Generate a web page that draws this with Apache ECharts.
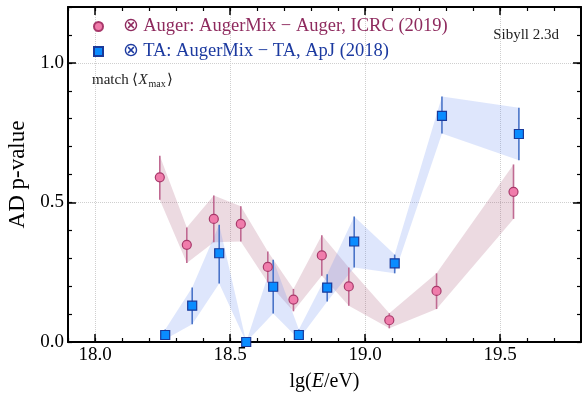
<!DOCTYPE html>
<html><head><meta charset="utf-8">
<script src="https://cdn.jsdelivr.net/npm/echarts@6/dist/echarts.min.js"></script>
<style>html,body{margin:0;padding:0;background:#fff}#c{width:582px;height:393px}</style>
</head><body><div id="c"></div><script>
// ---- data ----
const augerName = '⊗ Auger: AugerMix − Auger, ICRC (2019)';
const taName = '⊗ TA: AugerMix − TA, ApJ (2018)';
const augerX  = [18.24, 18.34, 18.44, 18.54, 18.64, 18.735, 18.84, 18.94, 19.09, 19.265, 19.55];
const augerY  = [0.590, 0.348, 0.441, 0.423, 0.269, 0.152, 0.310, 0.199, 0.078, 0.183, 0.538];
const augerLo = [0.510, 0.283, 0.357, 0.360, 0.213, 0.110, 0.237, 0.130, 0.049, 0.118, 0.441];
const augerHi = [0.667, 0.410, 0.525, 0.486, 0.324, 0.190, 0.382, 0.267, 0.103, 0.246, 0.636];
const taX  = [18.26, 18.36, 18.46, 18.56, 18.66, 18.755, 18.86, 18.96, 19.11, 19.285, 19.57];
const taY  = [0.025, 0.130, 0.318, 0.000, 0.198, 0.025, 0.195, 0.360, 0.282, 0.810, 0.745];
const taLo = [0.010, 0.064, 0.210, 0.000, 0.102, 0.010, 0.145, 0.267, 0.246, 0.747, 0.651];
const taHi = [0.045, 0.195, 0.420, 0.000, 0.295, 0.045, 0.243, 0.450, 0.313, 0.879, 0.839];
const xMajor = [18.0, 18.5, 19.0, 19.5];
const yMajor = [0.0, 0.5, 1.0];

const FONT = '"Liberation Serif", "Times New Roman", serif';
const chart = echarts.init(document.getElementById('c'), null, {renderer: 'canvas'});

function pts(xs, a, b) { return xs.map((x, i) => b ? [x, a[i], b[i]] : [x, a[i]]); }

function bandSeries(xs, lo, hi, color) {
  return {
    type: 'custom', xAxisIndex: 0, yAxisIndex: 0, z: 1, silent: true,
    data: pts(xs, lo, hi),
    renderItem: function (params, api) {
      if (params.dataIndex !== 0) return null;
      const top = xs.map((x, i) => api.coord([x, hi[i]]));
      const bot = xs.map((x, i) => api.coord([x, lo[i]])).reverse();
      return { type: 'polygon', shape: { points: top.concat(bot) }, style: { fill: color } };
    },
    clip: true
  };
}
function errSeries(xs, lo, hi, color) {
  return {
    type: 'custom', xAxisIndex: 0, yAxisIndex: 0, z: 2, silent: true,
    data: pts(xs, lo, hi),
    renderItem: function (params, api) {
      const p1 = api.coord([api.value(0), api.value(1)]);
      const p2 = api.coord([api.value(0), api.value(2)]);
      return { type: 'line', shape: { x1: p1[0], y1: p1[1], x2: p2[0], y2: p2[1] }, style: { stroke: color, lineWidth: 1.6 } };
    },
    clip: true
  };
}

const axisLineStyle = { color: '#000', width: 2 };
function xAx(pos, major) {
  const a = {
    type: 'value', min: 17.9, max: 19.8, position: pos, gridIndex: 0,
    axisLine: { show: !major, onZero: false, lineStyle: axisLineStyle },
    splitLine: { show: false }, axisLabel: { show: false }
  };
  if (major) {
    a.axisTick = { show: true, inside: true, length: 8, customValues: xMajor, lineStyle: { color: '#000', width: 1.5 } };
  } else {
    a.interval = 0.1;
    a.axisTick = { show: true, inside: true, length: 4, lineStyle: { color: '#000', width: 1.2 } };
  }
  return a;
}
function yAx(pos, major) {
  const a = {
    type: 'value', min: 0, max: 1.2, position: pos, gridIndex: 0,
    axisLine: { show: !major, onZero: false, lineStyle: axisLineStyle },
    splitLine: { show: false }, axisLabel: { show: false }
  };
  if (major) {
    a.axisTick = { show: true, inside: true, length: 8, customValues: yMajor, lineStyle: { color: '#000', width: 1.5 } };
  } else {
    a.interval = 0.1;
    a.axisTick = { show: true, inside: true, length: 4, lineStyle: { color: '#000', width: 1.2 } };
  }
  return a;
}

const xAxes = [xAx('bottom', false), xAx('bottom', true), xAx('top', false), xAx('top', true)];
xAxes[0].axisLabel = { show: true, customValues: xMajor, formatter: v => v.toFixed(1), fontFamily: FONT, fontSize: 19, color: '#000', margin: 4 };
xAxes[0].name = '{n|lg(}{i|E}{n|/eV)}';
xAxes[0].nameLocation = 'middle';
xAxes[0].nameGap = 30;
xAxes[0].nameTextStyle = { rich: { n: { fontFamily: FONT, fontSize: 20, color: '#000' }, i: { fontFamily: FONT, fontSize: 20, fontStyle: 'italic', color: '#000' } } };
xAxes[1].splitLine = { show: true, lineStyle: { type: 'dotted', color: '#cfcfcf', width: 1 } };

const yAxes = [yAx('left', false), yAx('left', true), yAx('right', false), yAx('right', true)];
yAxes[0].axisLabel = { show: true, customValues: yMajor, formatter: v => v.toFixed(1), fontFamily: FONT, fontSize: 19, color: '#000', margin: 4 };
yAxes[0].name = 'AD p-value';
yAxes[0].nameLocation = 'middle';
yAxes[0].nameGap = 34;
yAxes[0].nameTextStyle = { fontFamily: FONT, fontSize: 23, color: '#000' };
yAxes[1].splitLine = { show: true, lineStyle: { type: 'dotted', color: '#cfcfcf', width: 1 } };

const SQUARE = 'path://M0,0L10,0L10,10L0,10Z';

const option = {
  animation: false,
  backgroundColor: '#fff',
  grid: { left: 68, right: 1, top: 7, bottom: 51, containLabel: false, outerBoundsMode: 'none' },
  xAxis: xAxes,
  yAxis: yAxes,
  legend: {
    orient: 'vertical', left: 93, top: 17, padding: 0, itemWidth: 38, itemHeight: 9, itemGap: 6,
    selectedMode: false, symbolKeepAspect: true,
    textStyle: { fontFamily: FONT, fontSize: 18.5, lineHeight: 18 },
    data: [
      { name: augerName, icon: 'circle', textStyle: { color: '#8e2a5e' } },
      { name: taName, icon: SQUARE, textStyle: { color: '#1c3aa0' } }
    ]
  },
  graphic: [
    { type: 'text', right: 23, top: 28, style: { text: 'Sibyll 2.3d', font: '15px ' + FONT, fill: '#222' } },
    { type: 'text', left: 92, top: 73, style: {
        text: '{a|match ⟨}{b|X}{c|max}{a|⟩}',
        rich: {
          a: { fontFamily: FONT, fontSize: 15, fill: '#222', color: '#222' },
          b: { fontFamily: FONT, fontSize: 15, fontStyle: 'italic', fill: '#222', color: '#222' },
          c: { fontFamily: FONT, fontSize: 10, fill: '#222', color: '#222', padding: [7, 1, 0, 1] }
        } } }
  ],
  series: [
    bandSeries(augerX, augerLo, augerHi, 'rgba(160, 70, 105, 0.2)'),
    bandSeries(taX, taLo, taHi, 'rgba(90, 130, 240, 0.2)'),
    errSeries(augerX, augerLo, augerHi, '#c06a92'),
    errSeries(taX, taLo, taHi, '#4a74c8'),
    { name: augerName, type: 'scatter', xAxisIndex: 0, yAxisIndex: 0, z: 3, symbol: 'circle', symbolSize: 9, symbolKeepAspect: true,
      data: pts(augerX, augerY), itemStyle: { color: '#f07cab', borderColor: '#a8386a', borderWidth: 1.2, opacity: 1 } },
    { name: taName, type: 'scatter', xAxisIndex: 0, yAxisIndex: 0, z: 3, symbol: SQUARE, symbolSize: 9, symbolKeepAspect: true,
      data: pts(taX, taY), itemStyle: { color: '#0a8cff', borderColor: '#1a3a9a', borderWidth: 1.2, opacity: 1 } }
  ]
};
chart.setOption(option);
</script></body></html>
